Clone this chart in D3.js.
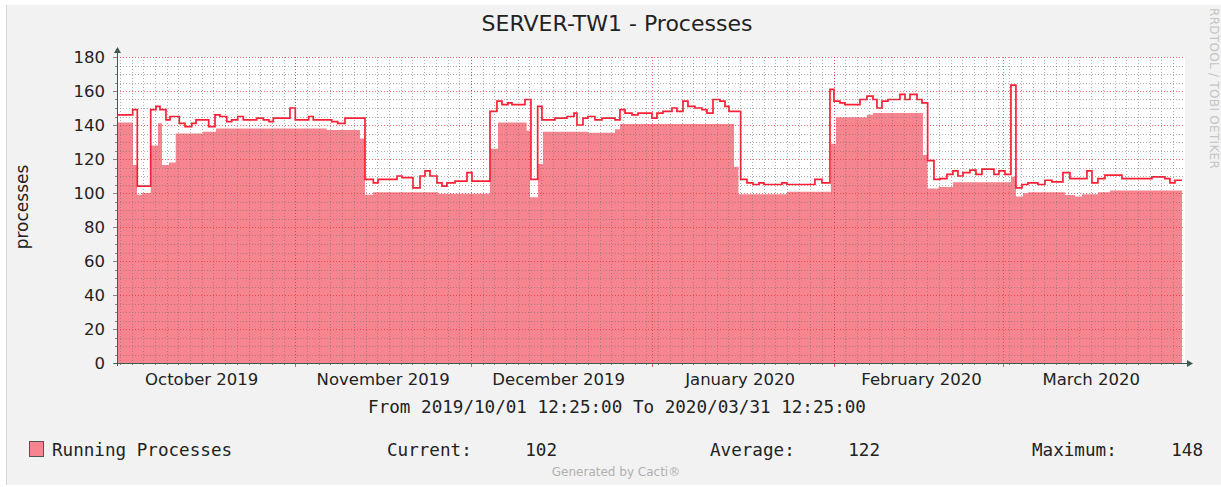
<!DOCTYPE html>
<html><head><meta charset="utf-8">
<script src="https://cdn.jsdelivr.net/npm/d3@7"></script>
<style>body{margin:0;background:#fff;overflow:hidden}</style>
</head><body><svg id="c" width="1221" height="487"></svg>
<script>
// ---------------- data ----------------
const chartTitle = "SERVER-TW1 - Processes";
const yAxisLabel = "processes";
const rangeText = "From 2019/10/01 12:25:00 To 2020/03/31 12:25:00";
const startTime = Date.UTC(2019, 9, 1, 12, 25);
const endTime = Date.UTC(2020, 2, 31, 12, 25);
const yTicks = [0, 20, 40, 60, 80, 100, 120, 140, 160, 180];
const monthLabels = ["October 2019", "November 2019", "December 2019", "January 2020", "February 2020", "March 2020"];
const monthLabelDates = ["2019-10-16", "2019-11-16", "2019-12-16", "2020-01-16", "2020-02-16", "2020-03-16"];
const seriesName = "Running Processes";
const statNames = ["Current:", "Average:", "Maximum:"];
const statValues = [102, 122, 148];

// [days since start, value] step points: maximum line
const maxLine = [
 [0,146],[2.68,149],[3.47,104],[5.76,149],[6.66,151],[7.35,149],[8.37,143],[9.06,145],[10.65,141],[11.62,139],
 [12.76,141],[13.5,143],[15.67,139],[16.75,146],[17.6,145],[18.75,142],[19.6,143],[20.63,145],[21.58,143],[23.87,144],
 [25.0,143],[25.97,142],[26.71,144],[29.56,150],[30.47,143],[32.76,145],[33.54,143],[36.69,142],[37.71,141],[38.96,144],
 [42.38,108],[43.8,106],[44.6,108],[47.85,110],[48.7,109],[50.58,103],[51.78,110],[52.63,113],[53.49,110],[54.68,106],
 [55.54,104],[56.39,106],[57.76,107],[59.81,112],[60.66,107],[63.74,148],[64.93,154],[65.79,152],[66.81,153],[67.5,152],
 [69.72,155],[70.74,108],[71.89,151],[72.62,143],[74.85,144],[76.9,145],[78.1,147],[78.6,140],[79.63,144],[80.49,145],
 [81.68,143],[82.88,144],[85.1,143],[85.95,149],[86.81,147],[88.0,146],[89.03,147],[91.42,144],[92.28,147],[93.3,148],
 [94.84,150],[95.69,148],[96.72,154],[97.57,151],[98.77,150],[99.97,149],[100.82,147],[101.85,155],[103.05,154],[103.9,151],
 [104.58,148],[106.58,108],[107.66,106],[108.68,105],[109.71,106],[110.56,105],[113.64,106],[114.49,105],[119.27,108],[120.47,106],
 [121.84,161],[122.52,154],[123.55,153],[124.4,152],[126.97,155],[128.16,157],[129.19,155],[129.87,150],[130.73,154],[131.75,155],
 [133.8,158],[134.66,155],[135.51,158],[136.71,155],[137.56,153],[138.53,119],[139.61,108],[140.64,108.5],[141.83,111],[142.86,113],
 [143.71,110],[144.57,112],[145.76,113.5],[146.79,111],[147.81,114],[149.86,111],[150.72,113],[151.74,111],[152.77,163.5],[153.62,103],
 [154.65,105],[155.67,106],[157.38,105],[158.58,107.5],[159.77,106.5],[161.65,112],[162.85,108.5],[165.75,113],[166.61,106],[167.63,108.5],
 [168.83,110.5],[171.74,108.5],[176.86,109.5],[179.08,108.5],[179.94,106],[180.79,107.5],[182,107.5]
];
// [days since start, value] step points: running processes (area)
const runningArea = [
 [0,141.5],[2.73,116.5],[3.42,99],[4.27,100],[5.76,128],[7.0,141],[7.69,116.5],[8.89,118],[10.03,135],[14.7,136],
 [16.92,138],[35.83,137],[41.52,132],[42.38,99],[43.75,100.4],[54.85,99.6],[63.74,126],[65.1,141.4],[70.0,136.6],[70.57,97.5],
 [71.95,117],[72.79,136],[80.49,135.5],[85.1,137.5],[85.95,140.6],[105.45,115.5],[106.2,99.3],[114.49,100.8],[122.0,129],[122.86,144.5],
 [128.16,146],[129.19,147],[137.73,122.4],[138.53,102.7],[140.4,103.6],[142.86,106.3],[152.77,109.6],[153.62,98],[154.82,99.8],[155.67,100.4],
 [162.0,98.8],[163.7,98],[164.9,99.2],[167.63,100.4],[169.7,101.5],[182,101.5]
];

// ---------------- drawing ----------------
const svg = d3.select("#c");
const W = 1221, H = 487;
const L = 117, R = 1182, T = 57, B = 363, GR = 1185;
const DAY = 864e5;
const x = d3.scaleUtc().domain([new Date(startTime), new Date(endTime)]).range([L, R]);
const y = d3.scaleLinear().domain([0, 180]).range([B, T]);
const dt = d => new Date(startTime + d * DAY);

// outer background
svg.append("rect").attr("x", 6).attr("y", 5).attr("width", W - 6).attr("height", H - 7).attr("fill", "#f2f2f2");
svg.append("line").attr("x1", 6.5).attr("x2", 6.5).attr("y1", 5).attr("y2", H - 2).attr("stroke", "#d6d6d6");
// canvas
svg.append("rect").attr("x", L).attr("y", T).attr("width", GR - L).attr("height", B - T).attr("fill", "#ffffff");

// area
const area = d3.area().curve(d3.curveStepAfter)
  .x(d => x(dt(d[0]))).y0(y(0)).y1(d => y(d[1]));
svg.append("path").datum(runningArea).attr("d", area).attr("fill", "#f6858f");

// max line
const line = d3.line().curve(d3.curveStepAfter).x(d => x(dt(d[0]))).y(d => y(d[1]));
svg.append("path").datum(maxLine).attr("d", line).attr("fill", "none")
  .attr("stroke", "#ff1f35").attr("stroke-width", 1.7);

// grid (drawn over graph, like rrdtool)
const g = svg.append("g");
const minorCol = "rgba(110,110,110,0.55)", majorCol = "rgba(232,45,45,0.7)";
const minorY = d3.range(0, 181, 5).filter(v => v % 20 !== 0);
g.selectAll(".hmin").data(minorY).join("line")
  .attr("x1", L).attr("x2", GR).attr("y1", d => Math.round(y(d)) + 0.5).attr("y2", d => Math.round(y(d)) + 0.5)
  .attr("stroke", minorCol).attr("stroke-dasharray", "1,2");
const oddDay = d3.utcDay.filter(d => Math.floor(+d / DAY) % 2 === 1);
const minorX = oddDay.range(new Date(startTime), new Date(endTime));
g.selectAll(".vmin").data(minorX).join("line")
  .attr("x1", d => Math.round(x(d)) + 0.5).attr("x2", d => Math.round(x(d)) + 0.5).attr("y1", T).attr("y2", B)
  .attr("stroke", minorCol).attr("stroke-dasharray", "1,2");
g.selectAll(".hmaj").data(yTicks.filter(v => v > 0)).join("line")
  .attr("x1", L).attr("x2", GR).attr("y1", d => Math.round(y(d)) + 0.5).attr("y2", d => Math.round(y(d)) + 0.5)
  .attr("stroke", majorCol).attr("stroke-dasharray", "1,2");
const majorX = d3.utcMonth.range(new Date(startTime), new Date(endTime));
g.selectAll(".vmaj").data(majorX).join("line")
  .attr("x1", d => Math.round(x(d)) + 0.5).attr("x2", d => Math.round(x(d)) + 0.5).attr("y1", T).attr("y2", B)
  .attr("stroke", majorCol).attr("stroke-dasharray", "1,2");

// axis ticks
const axisCol = "#3d5c4c";
g.selectAll(".ytm").data(minorY).join("line")
  .attr("x1", L - 2).attr("x2", L).attr("y1", d => Math.round(y(d)) + 0.5).attr("y2", d => Math.round(y(d)) + 0.5)
  .attr("stroke", "#888");
g.selectAll(".ytM").data(yTicks).join("line")
  .attr("x1", L - 4).attr("x2", L).attr("y1", d => Math.round(y(d)) + 0.5).attr("y2", d => Math.round(y(d)) + 0.5)
  .attr("stroke", "#888");
g.selectAll(".xtm").data(minorX).join("line")
  .attr("x1", d => Math.round(x(d)) + 0.5).attr("x2", d => Math.round(x(d)) + 0.5).attr("y1", B).attr("y2", B + 2)
  .attr("stroke", "#888");
g.selectAll(".xtM").data(majorX).join("line")
  .attr("x1", d => Math.round(x(d)) + 0.5).attr("x2", d => Math.round(x(d)) + 0.5).attr("y1", B).attr("y2", B + 4)
  .attr("stroke", "rgba(235,60,60,0.8)");

// axes lines and arrows
svg.append("line").attr("x1", L - 3).attr("x2", GR + 3).attr("y1", B + 0.5).attr("y2", B + 0.5).attr("stroke", axisCol);
svg.append("line").attr("x1", L + 0.5).attr("x2", L + 0.5).attr("y1", T - 4).attr("y2", B + 3).attr("stroke", axisCol);
svg.append("path").attr("d", `M${GR + 2},${B - 3} L${GR + 8},${B + 0.5} L${GR + 2},${B + 4} Z`).attr("fill", axisCol);
svg.append("path").attr("d", `M${L - 3},${T - 4} L${L + 0.5},${T - 10} L${L + 4},${T - 4} Z`).attr("fill", axisCol);

// y tick labels
const sans = "'DejaVu Sans', sans-serif", mono = "'DejaVu Sans Mono', monospace";
svg.selectAll(".yl").data(yTicks).join("text")
  .attr("x", 105).attr("y", d => y(d)).attr("dy", "0.36em").attr("text-anchor", "end")
  .attr("font-family", sans).attr("font-size", 16.5).attr("fill", "#222").text(d => d);
// x labels
svg.selectAll(".xl").data(monthLabels).join("text")
  .attr("x", (d, i) => x(new Date(monthLabelDates[i] + "T00:00:00Z"))).attr("y", 385).attr("text-anchor", "middle")
  .attr("font-family", sans).attr("font-size", 16.5).attr("fill", "#222").text(d => d);

// title
svg.append("text").attr("x", 617).attr("y", 31).attr("text-anchor", "middle")
  .attr("font-family", sans).attr("font-size", 22).attr("fill", "#222").text(chartTitle);
// y axis label
svg.append("text").attr("transform", "translate(28,207) rotate(-90)").attr("text-anchor", "middle")
  .attr("font-family", sans).attr("font-size", 17).attr("fill", "#222").text(yAxisLabel);
// watermark
svg.append("text").attr("transform", "translate(1210,8) rotate(90)").attr("text-anchor", "start")
  .attr("font-family", sans).attr("font-size", 12).attr("letter-spacing", 0.3).attr("fill", "#c4c4c4").text("RRDTOOL / TOBI OETIKER");

// range text
svg.append("text").attr("x", 617).attr("y", 413).attr("text-anchor", "middle")
  .attr("font-family", mono).attr("font-size", 17.6).attr("fill", "#222").text(rangeText);

// legend
svg.append("rect").attr("x", 29.5).attr("y", 441.5).attr("width", 14).attr("height", 15)
  .attr("fill", "#f6858f").attr("stroke", "#4a5a52");
svg.append("text").attr("x", 52).attr("y", 456).attr("font-family", mono).attr("font-size", 17.6)
  .attr("fill", "#222").text(seriesName);
const statX = [387, 710, 1032], valX = [557, 880, 1203];
statNames.forEach((n, i) => {
  svg.append("text").attr("x", statX[i]).attr("y", 456).attr("font-family", mono).attr("font-size", 17.6)
    .attr("fill", "#222").text(n);
  svg.append("text").attr("x", valX[i]).attr("y", 456).attr("text-anchor", "end").attr("font-family", mono)
    .attr("font-size", 17.6).attr("fill", "#222").text(statValues[i]);
});
svg.append("text").attr("x", 616).attr("y", 476).attr("text-anchor", "middle")
  .attr("font-family", sans).attr("font-size", 12).attr("fill", "#b0b0b0").text("Generated by Cacti®");
</script></body></html>
